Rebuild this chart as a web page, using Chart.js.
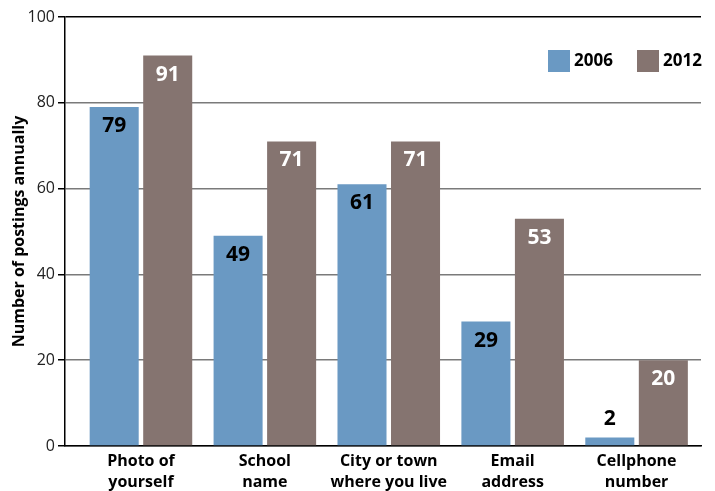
<!DOCTYPE html>
<html>
<head>
<meta charset="utf-8">
<script src="https://cdn.jsdelivr.net/npm/chart.js@4"></script>
<style>
  html, body { margin: 0; padding: 0; background: #fff; }
  #wrap { width: 715px; height: 491px; }
</style>
</head>
<body>
<div id="wrap"><canvas id="chart" width="715" height="491"></canvas></div>
<script>
// ── DATA ────────────────────────────────────────
const categories = [
  ['Photo of', 'yourself'],
  ['School', 'name'],
  ['City or town', 'where you live'],
  ['Email', 'address'],
  ['Cellphone', 'number']
];
const years    = ['2006', '2012'];
const vals2006 = [79, 49, 61, 29, 2];
const vals2012 = [91, 71, 71, 53, 20];
const yTicks   = [0, 20, 40, 60, 80, 100];

const BLUE  = '#6a99c3';
const BROWN = '#857470';
const FONT  = "'Open Sans', 'Noto Sans', sans-serif";

// ── VALUE LABELS ────────────────────────────────
const valueLabels = {
  id: 'valueLabels',
  afterDatasetsDraw(chart) {
    const ctx = chart.ctx;
    ctx.save();
    ctx.font = `bold 21px ${FONT}`;
    ctx.textAlign = 'center';
    ctx.textBaseline = 'middle';
    chart.data.datasets.forEach((ds, di) => {
      chart.getDatasetMeta(di).data.forEach((bar, i) => {
        const v = ds.data[i].y;
        const h = bar.base - bar.y;
        if (h < 30) {
          ctx.fillStyle = '#000';
          ctx.fillText(v, bar.x, bar.y - 18);
        } else {
          ctx.fillStyle = di === 0 ? '#000' : '#fff';
          ctx.fillText(v, bar.x, bar.y + 19);
        }
      });
    });
    ctx.restore();
  }
};

// ── LEGEND (inside plot) ────────────────────────
const innerLegend = {
  id: 'innerLegend',
  afterDraw(chart) {
    const ctx = chart.ctx;
    const pos = [548, 637];
    ctx.save();
    ctx.font = `bold 17px ${FONT}`;
    ctx.textBaseline = 'middle';
    ctx.textAlign = 'left';
    chart.data.datasets.forEach((ds, i) => {
      ctx.fillStyle = ds.backgroundColor;
      ctx.fillRect(pos[i], 50, 22, 22);
      ctx.fillStyle = '#000';
      ctx.fillText(ds.label, pos[i] + 26, 61);
    });
    ctx.restore();
  }
};

const toPts = arr => arr.map((y, i) => ({ x: i, y }));

new Chart(document.getElementById('chart'), {
  type: 'bar',
  data: {
    datasets: [
      { label: years[0], data: toPts(vals2006), backgroundColor: BLUE },
      { label: years[1], data: toPts(vals2012), backgroundColor: BROWN }
    ]
  },
  options: {
    responsive: false,
    animation: false,
    categoryPercentage: 0.864,
    barPercentage: 0.916,
    layout: { padding: { top: 17, right: 14, left: 0, bottom: 0 } },
    plugins: { legend: { display: false }, tooltip: { enabled: false } },
    scales: {
      x: {
        type: 'linear',
        offset: false,
        min: -0.613,
        max: 4.52,
        grid: { display: false },
        border: { color: '#000', width: 1.5 },
        afterFit: s => { s.height = 45; },
        afterBuildTicks: s => { s.ticks = categories.map((_, i) => ({ value: i })); },
        ticks: {
          autoSkip: false,
          maxRotation: 0,
          padding: -3,
          color: '#000',
          font: { family: FONT, weight: 'bold', size: 16, lineHeight: 1.3 },
          callback: v => categories[v] || ''
        }
      },
      y: {
        min: 0,
        max: 100,
        afterFit: s => { s.width = 65; },
        afterBuildTicks: s => { s.ticks = yTicks.map(v => ({ value: v })); },
        border: { color: '#000', width: 1.5 },
        grid: {
          color: c => c.tick && c.tick.value === 100 ? '#000' : '#7a7a7a',
          lineWidth: 1.5,
          tickLength: 7,
          tickColor: '#000'
        },
        ticks: {
          padding: 3,
          color: '#222',
          font: { family: FONT, size: 16 }
        },
        title: {
          display: true,
          text: 'Number of postings annually',
          color: '#000',
          padding: { top: 10, bottom: 4 },
          font: { family: FONT, weight: 'bold', size: 16 }
        }
      }
    }
  },
  plugins: [valueLabels, innerLegend]
});
</script>
</body>
</html>
